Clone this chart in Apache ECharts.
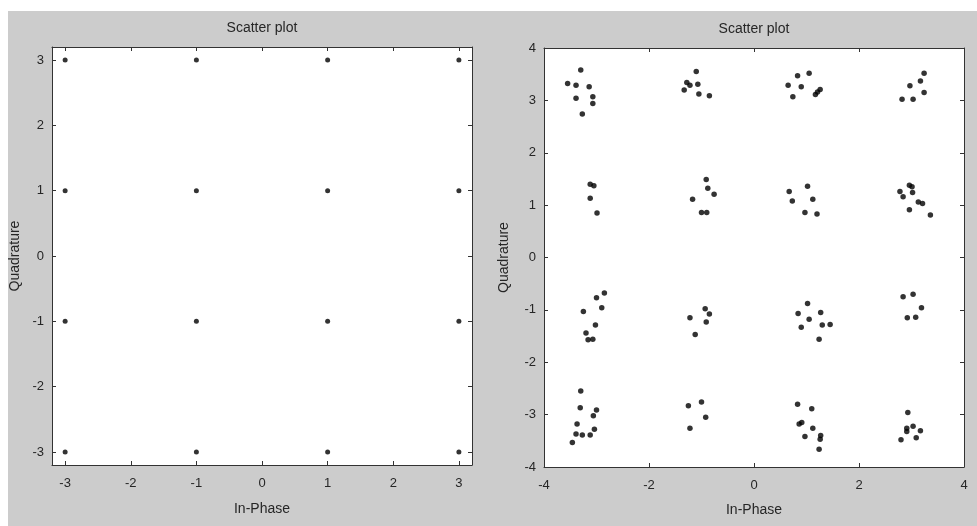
<!DOCTYPE html>
<html>
<head>
<meta charset="utf-8">
<script src="https://cdn.jsdelivr.net/npm/echarts@6/dist/echarts.min.js"></script>
<style>
  html, body { margin: 0; padding: 0; background: #ffffff; }
  #panel { position: absolute; left: 8px; top: 11px; width: 969px; height: 515px; background: #cccccc; }
  #chart { position: absolute; left: 0; top: 0; width: 977px; height: 526px; }
</style>
</head>
<body>
<div id="panel"></div>
<div id="chart"></div>
<script>
// Ideal 16-QAM constellation (in-phase / quadrature)
const idealI = [-3, -3, -3, -3, -1, -1, -1, -1, 1, 1, 1, 1, 3, 3, 3, 3];
const idealQ = [3, 1, -1, -3, 3, 1, -1, -3, 3, 1, -1, -3, 3, 1, -1, -3];

// Received noisy symbols, in-phase components
const rxI = [
  -3.30, -3.55, -3.39, -3.14, -3.39, -3.07, -3.07, -3.27,
  -1.10, -1.28, -1.22, -1.07, -1.33, -1.05, -0.85,
  0.83, 1.05, 0.65, 0.90, 0.74, 1.17, 1.26, 1.21,
  3.24, 3.17, 2.97, 3.24, 2.82, 3.03,
  -3.12, -3.05, -3.12, -2.99,
  -0.91, -0.88, -0.76, -1.17, -1.00, -0.90,
  1.02, 0.67, 0.73, 1.12, 0.97, 1.20,
  2.96, 3.01, 2.78, 2.84, 3.02, 3.13, 3.21, 2.96, 3.36,
  -2.85, -3.00, -2.90, -3.25, -3.02, -3.20, -3.16, -3.07,
  -0.93, -0.85, -0.91, -1.22, -1.12,
  1.02, 0.84, 1.05, 1.27, 0.90, 1.30, 1.45, 1.24,
  2.84, 3.03, 3.19, 2.92, 3.08,
  -3.30, -3.31, -3.00, -3.06, -3.37, -3.39, -3.27, -3.12, -3.04, -3.46,
  -1.25, -1.00, -0.92, -1.22,
  0.83, 1.10, 0.86, 0.91, 1.12, 0.97, 1.27, 1.26, 1.24,
  2.93, 2.91, 2.91, 3.03, 3.17, 2.80, 3.09
];
// Received noisy symbols, quadrature components
const rxQ = [
  3.58, 3.32, 3.29, 3.26, 3.04, 3.07, 2.94, 2.74,
  3.55, 3.34, 3.29, 3.31, 3.20, 3.12, 3.09,
  3.47, 3.52, 3.29, 3.26, 3.07, 3.11, 3.21, 3.16,
  3.52, 3.37, 3.28, 3.15, 3.02, 3.02,
  1.40, 1.37, 1.13, 0.85,
  1.49, 1.32, 1.21, 1.11, 0.86, 0.86,
  1.36, 1.26, 1.08, 1.11, 0.86, 0.83,
  1.38, 1.35, 1.26, 1.16, 1.24, 1.06, 1.03, 0.91, 0.81,
  -0.68, -0.77, -0.96, -1.03, -1.29, -1.44, -1.57, -1.56,
  -0.98, -1.08, -1.23, -1.15, -1.47,
  -0.88, -1.07, -1.18, -1.05, -1.33, -1.29, -1.28, -1.56,
  -0.75, -0.70, -0.96, -1.15, -1.14,
  -2.55, -2.87, -2.91, -3.02, -3.18, -3.37, -3.39, -3.39, -3.28, -3.53,
  -2.83, -2.76, -3.05, -3.26,
  -2.80, -2.89, -3.18, -3.15, -3.26, -3.42, -3.40, -3.47, -3.66,
  -2.96, -3.26, -3.32, -3.22, -3.31, -3.48, -3.44
];

// Tick values
const idealTicks = [-3, -2, -1, 0, 1, 2, 3];

const titleText = 'Scatter plot';
const xName = 'In-Phase';
const yName = 'Quadrature';

const idealPts = idealI.map((v, i) => [v, idealQ[i]]);
const rxPts = rxI.map((v, i) => [v, rxQ[i]]);

const font = 'Liberation Sans, Arial, sans-serif';
const ink = '#262626';

function axis(opts) {
  const base = {
    type: 'value',
    min: opts.min, max: opts.max,
    gridIndex: opts.grid,
    position: opts.position,
    splitLine: { show: false },
    axisLine: { show: true, onZero: false, lineStyle: { color: '#333', width: 1 } },
    axisTick: { show: true, inside: true, length: 4, lineStyle: { color: '#333' } },
    axisLabel: { show: opts.labels, color: ink, fontFamily: font, fontSize: 13, margin: opts.margin || 8 }
  };
  if (opts.ticks) {
    base.axisTick.customValues = opts.ticks;
    base.axisLabel.customValues = opts.ticks;
  }
  if (opts.interval) base.interval = opts.interval;
  if (opts.name) {
    base.name = opts.name;
    base.nameLocation = 'middle';
    base.nameGap = opts.nameGap;
    base.nameTextStyle = { color: ink, fontFamily: font, fontSize: 14 };
  }
  return base;
}

const chart = echarts.init(document.getElementById('chart'), null, { renderer: 'canvas' });
chart.setOption({
  backgroundColor: 'transparent',
  animation: false,
  grid: [
    { left: 52, top: 47, width: 420, height: 418, show: true, backgroundColor: '#ffffff', borderWidth: 0 },
    { left: 544, top: 48, width: 420, height: 419, show: true, backgroundColor: '#ffffff', borderWidth: 0 }
  ],
  xAxis: [
    axis({ grid: 0, min: -3.2, max: 3.2, position: 'bottom', labels: true, ticks: idealTicks, margin: 12, name: xName, nameGap: 37 }),
    axis({ grid: 0, min: -3.2, max: 3.2, position: 'top', labels: false, ticks: idealTicks, name: titleText, nameGap: 12 }),
    axis({ grid: 1, min: -4, max: 4, interval: 2, position: 'bottom', labels: true, margin: 12, name: xName, nameGap: 36 }),
    axis({ grid: 1, min: -4, max: 4, interval: 2, position: 'top', labels: false, name: titleText, nameGap: 12 })
  ],
  yAxis: [
    axis({ grid: 0, min: -3.2, max: 3.2, position: 'left', labels: true, ticks: idealTicks, name: yName, nameGap: 30 }),
    axis({ grid: 0, min: -3.2, max: 3.2, position: 'right', labels: false, ticks: idealTicks }),
    axis({ grid: 1, min: -4, max: 4, interval: 1, position: 'left', labels: true, name: yName, nameGap: 33 }),
    axis({ grid: 1, min: -4, max: 4, interval: 1, position: 'right', labels: false })
  ],
  series: [
    {
      type: 'scatter', xAxisIndex: 0, yAxisIndex: 0,
      data: idealPts, symbol: 'circle', symbolSize: 5,
      itemStyle: { color: '#000000' }
    },
    {
      type: 'scatter', xAxisIndex: 2, yAxisIndex: 2,
      data: rxPts, symbol: 'circle', symbolSize: 5.5,
      itemStyle: { color: '#000000' }
    }
  ]
});
</script>
</body>
</html>
